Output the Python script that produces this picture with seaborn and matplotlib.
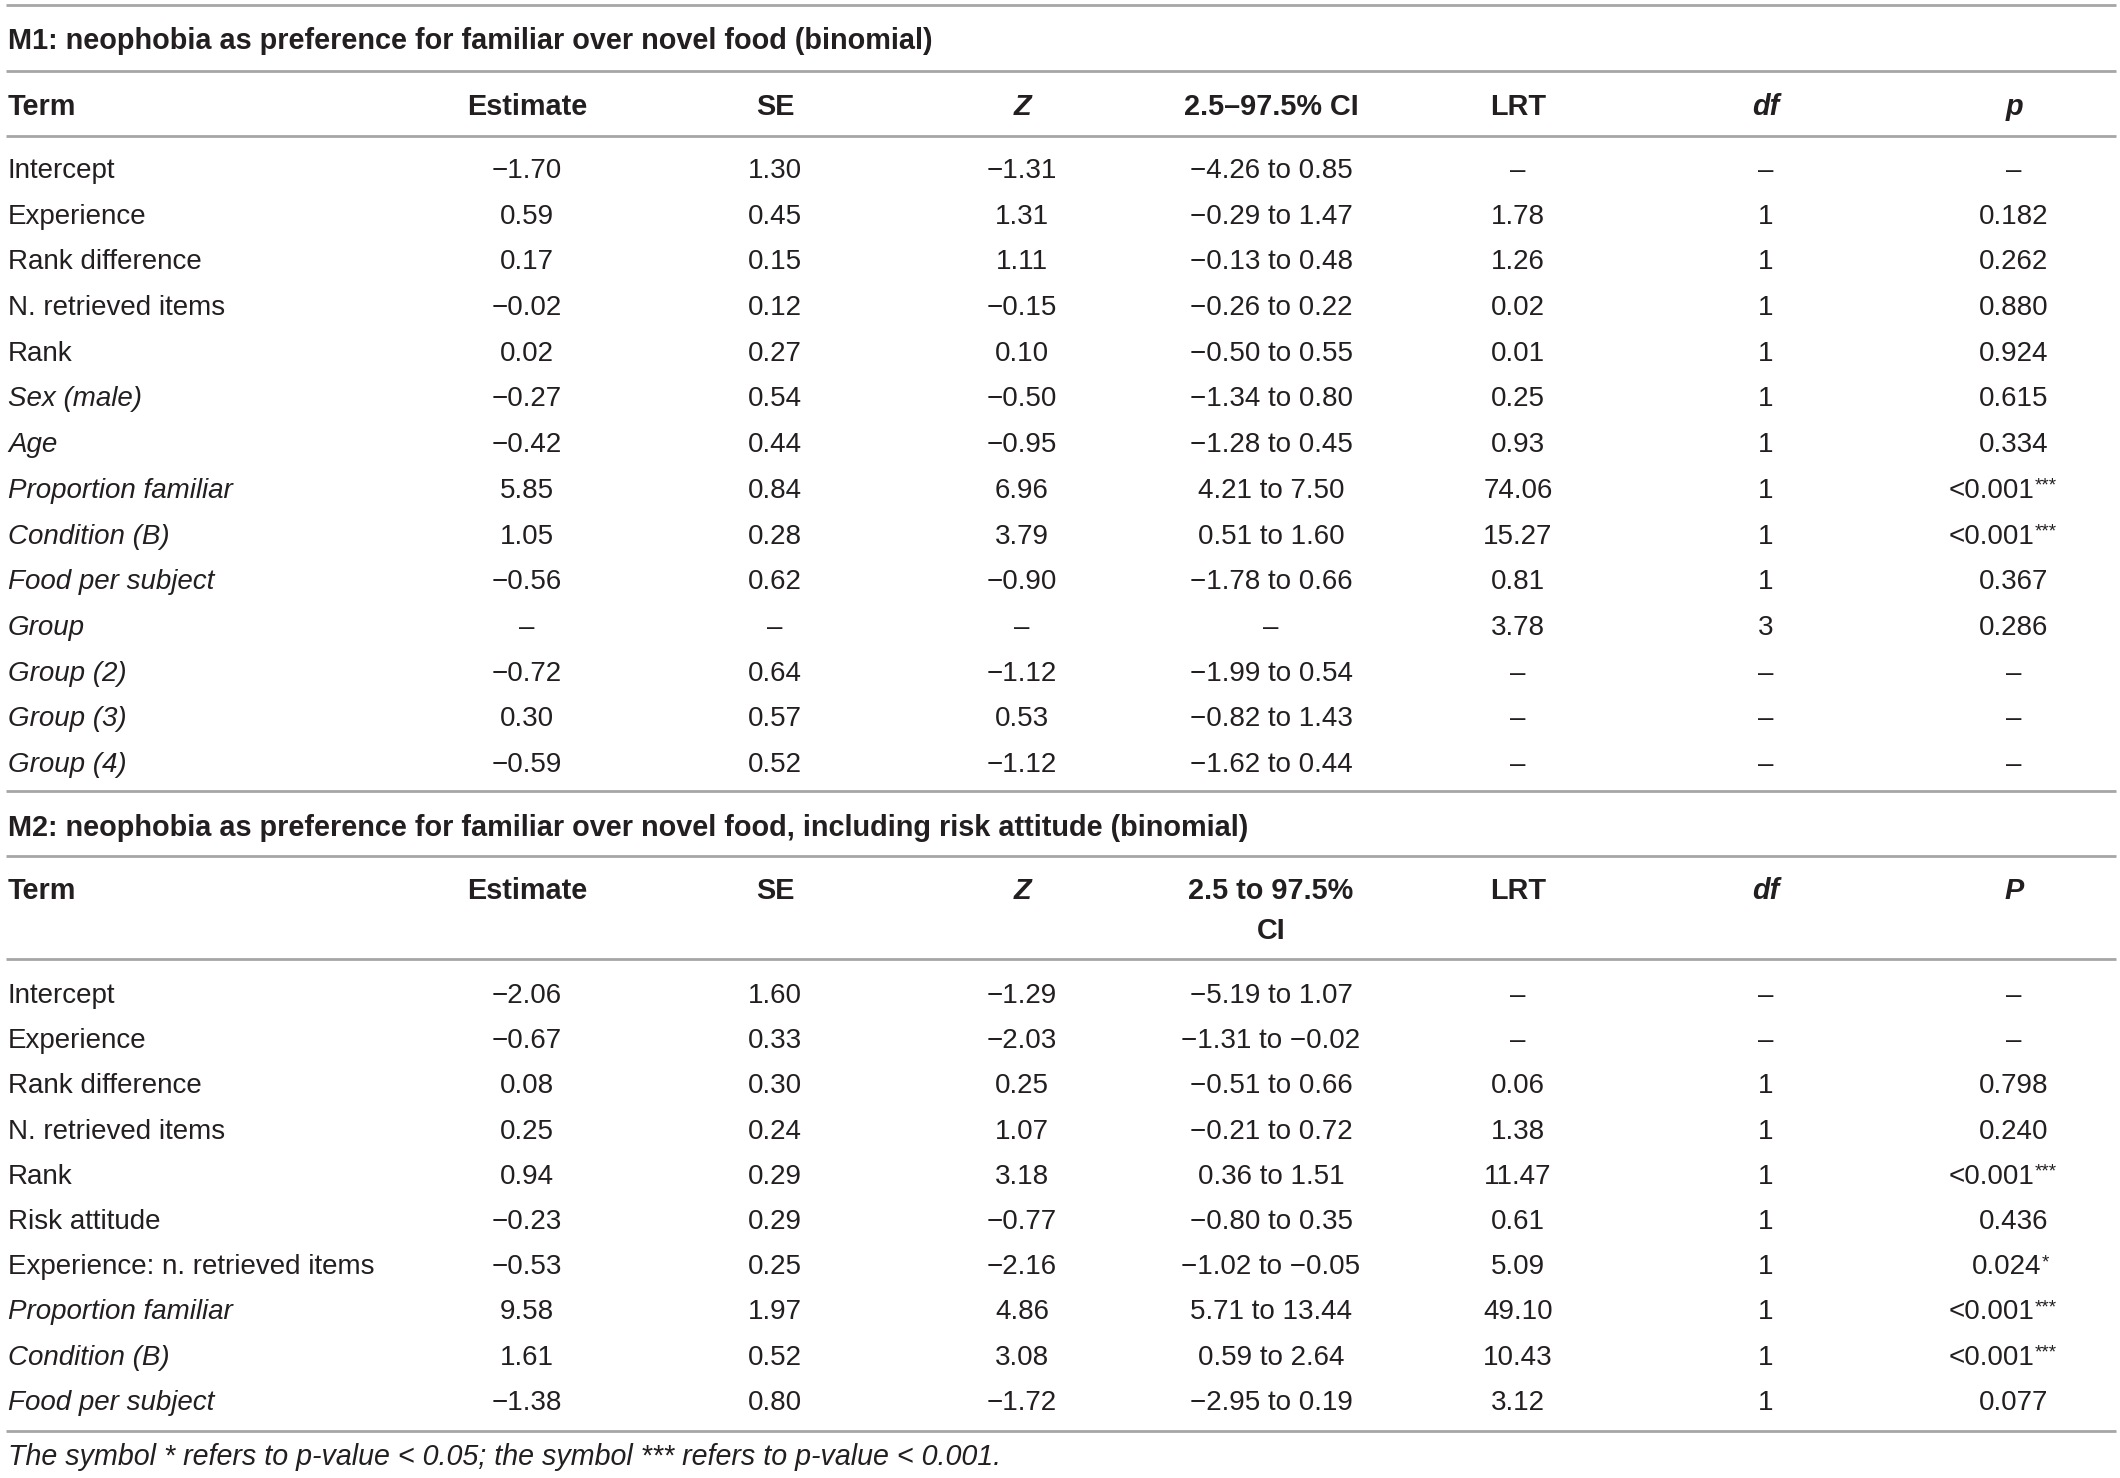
#!/usr/bin/env python3
"""
Recreate the neophobia model table (M1 / M2) as a figure.
"""

import matplotlib

matplotlib.use("Agg")

import matplotlib.pyplot as plt
import seaborn as sns  # type: ignore

sns.set_theme(style="white")
plt.rcParams["font.family"] = ["Liberation Sans", "DejaVu Sans"]

# ---- table data -----------------------------------------------------------
m1_title = "M1: neophobia as preference for familiar over novel food (binomial)"
m2_title = (
    "M2: neophobia as preference for familiar over novel food, "
    "including risk attitude (binomial)"
)
footnote = "The symbol * refers to p-value < 0.05; the symbol *** refers to p-value < 0.001."

m1_header = ["Term", "Estimate", "SE", "Z", "2.5\u201397.5% CI", "LRT", "df", "p"]
m2_header = ["Term", "Estimate", "SE", "Z", "2.5 to 97.5%\nCI", "LRT", "df", "P"]
header_italic = [False, False, False, True, False, False, True, True]

m1_terms = [
    "Intercept", "Experience", "Rank difference", "N. retrieved items", "Rank",
    "Sex (male)", "Age", "Proportion familiar", "Condition (B)", "Food per subject",
    "Group", "Group (2)", "Group (3)", "Group (4)",
]
m1_term_italic = [False] * 5 + [True] * 9
m1_estimate = ["\u22121.70", "0.59", "0.17", "\u22120.02", "0.02", "\u22120.27", "\u22120.42",
               "5.85", "1.05", "\u22120.56", "\u2013", "\u22120.72", "0.30", "\u22120.59"]
m1_se = ["1.30", "0.45", "0.15", "0.12", "0.27", "0.54", "0.44",
         "0.84", "0.28", "0.62", "\u2013", "0.64", "0.57", "0.52"]
m1_z = ["\u22121.31", "1.31", "1.11", "\u22120.15", "0.10", "\u22120.50", "\u22120.95",
        "6.96", "3.79", "\u22120.90", "\u2013", "\u22121.12", "0.53", "\u22121.12"]
m1_ci = ["\u22124.26 to 0.85", "\u22120.29 to 1.47", "\u22120.13 to 0.48", "\u22120.26 to 0.22",
         "\u22120.50 to 0.55", "\u22121.34 to 0.80", "\u22121.28 to 0.45", "4.21 to 7.50",
         "0.51 to 1.60", "\u22121.78 to 0.66", "\u2013", "\u22121.99 to 0.54",
         "\u22120.82 to 1.43", "\u22121.62 to 0.44"]
m1_lrt = ["\u2013", "1.78", "1.26", "0.02", "0.01", "0.25", "0.93",
          "74.06", "15.27", "0.81", "3.78", "\u2013", "\u2013", "\u2013"]
m1_df = ["\u2013", "1", "1", "1", "1", "1", "1", "1", "1", "1", "3", "\u2013", "\u2013", "\u2013"]
m1_p = ["\u2013", "0.182", "0.262", "0.880", "0.924", "0.615", "0.334",
        "<0.001", "<0.001", "0.367", "0.286", "\u2013", "\u2013", "\u2013"]
m1_sig = ["", "", "", "", "", "", "", "***", "***", "", "", "", "", ""]

m2_terms = [
    "Intercept", "Experience", "Rank difference", "N. retrieved items", "Rank",
    "Risk attitude", "Experience: n. retrieved items", "Proportion familiar",
    "Condition (B)", "Food per subject",
]
m2_term_italic = [False] * 7 + [True] * 3
m2_estimate = ["\u22122.06", "\u22120.67", "0.08", "0.25", "0.94", "\u22120.23", "\u22120.53",
               "9.58", "1.61", "\u22121.38"]
m2_se = ["1.60", "0.33", "0.30", "0.24", "0.29", "0.29", "0.25", "1.97", "0.52", "0.80"]
m2_z = ["\u22121.29", "\u22122.03", "0.25", "1.07", "3.18", "\u22120.77", "\u22122.16",
        "4.86", "3.08", "\u22121.72"]
m2_ci = ["\u22125.19 to 1.07", "\u22121.31 to \u22120.02", "\u22120.51 to 0.66", "\u22120.21 to 0.72",
         "0.36 to 1.51", "\u22120.80 to 0.35", "\u22121.02 to \u22120.05", "5.71 to 13.44",
         "0.59 to 2.64", "\u22122.95 to 0.19"]
m2_lrt = ["\u2013", "\u2013", "0.06", "1.38", "11.47", "0.61", "5.09", "49.10", "10.43", "3.12"]
m2_df = ["\u2013", "\u2013", "1", "1", "1", "1", "1", "1", "1", "1"]
m2_p = ["\u2013", "\u2013", "0.798", "0.240", "<0.001", "0.436", "0.024",
        "<0.001", "<0.001", "0.077"]
m2_sig = ["", "", "", "", "***", "", "*", "***", "***", ""]

# ---- layout (pixels) ------------------------------------------------------
W, H = 2120, 1478
col_x = [8, 527, 775, 1022, 1271, 1518, 1766, 2014]
text_color = "#231f20"
rule_color = "#a6a6a6"
fs_body = 20.0
fs_bold = 20.8
fs_foot = 20.6
fs_sup = 13.5
dy = 3  # nudge text down to sit like the reference

fig = plt.figure(figsize=(W / 100, H / 100), dpi=100)
ax = fig.add_axes([0, 0, 1, 1])
ax.set_xlim(0, W)
ax.set_ylim(H, 0)
ax.axis("off")


def rule(y):
    ax.plot([6, 2116], [y, y], color=rule_color, lw=2.0, solid_capstyle="butt")


def header_row(labels, y, y2=None):
    for i, lab in enumerate(labels):
        parts = lab.split("\n")
        ys = [y] if len(parts) == 1 else [y, y2]
        for yy, part in zip(ys, parts):
            ax.text(
                col_x[i], yy + dy, part,
                ha="left" if i == 0 else "center", va="center",
                fontsize=fs_bold, fontweight="bold", color=text_color,
                fontstyle="italic" if header_italic[i] else "normal",
            )


def body_rows(terms, italic, cols, pvals, sig, y0, step):
    for r, term in enumerate(terms):
        y = y0 + step * r + dy
        ax.text(col_x[0], y, term, ha="left", va="center", fontsize=fs_body,
                color=text_color, fontstyle="italic" if italic[r] else "normal")
        for c, col in enumerate(cols, start=1):
            ax.text(col_x[c], y, col[r], ha="center", va="center",
                    fontsize=fs_body, color=text_color)
        shift = 7.5 * len(sig[r])
        t = ax.text(col_x[7] - shift, y, pvals[r], ha="center", va="center",
                    fontsize=fs_body, color=text_color)
        if sig[r]:
            ax.annotate(sig[r], xy=(1.0, 1.0), xycoords=t, ha="left", va="top",
                        fontsize=fs_sup, color=text_color)


# M1 block
rule(5)
ax.text(col_x[0], 38 + dy, m1_title, ha="left", va="center", fontsize=fs_bold,
        fontweight="bold", color=text_color)
rule(71)
header_row(m1_header, 104)
rule(136)
body_rows(m1_terms, m1_term_italic,
          [m1_estimate, m1_se, m1_z, m1_ci, m1_lrt, m1_df],
          m1_p, m1_sig, 168, 45.7)
rule(791)

# M2 block
ax.text(col_x[0], 825 + dy, m2_title, ha="left", va="center", fontsize=fs_bold,
        fontweight="bold", color=text_color)
rule(856)
header_row(m2_header, 888, 928)
rule(959)
body_rows(m2_terms, m2_term_italic,
          [m2_estimate, m2_se, m2_z, m2_ci, m2_lrt, m2_df],
          m2_p, m2_sig, 993, 45.2)
rule(1431)

ax.text(col_x[0], 1457, footnote, ha="left", va="center", fontsize=fs_foot,
        fontstyle="italic", color=text_color)

fig.savefig("out.png", dpi=100)
